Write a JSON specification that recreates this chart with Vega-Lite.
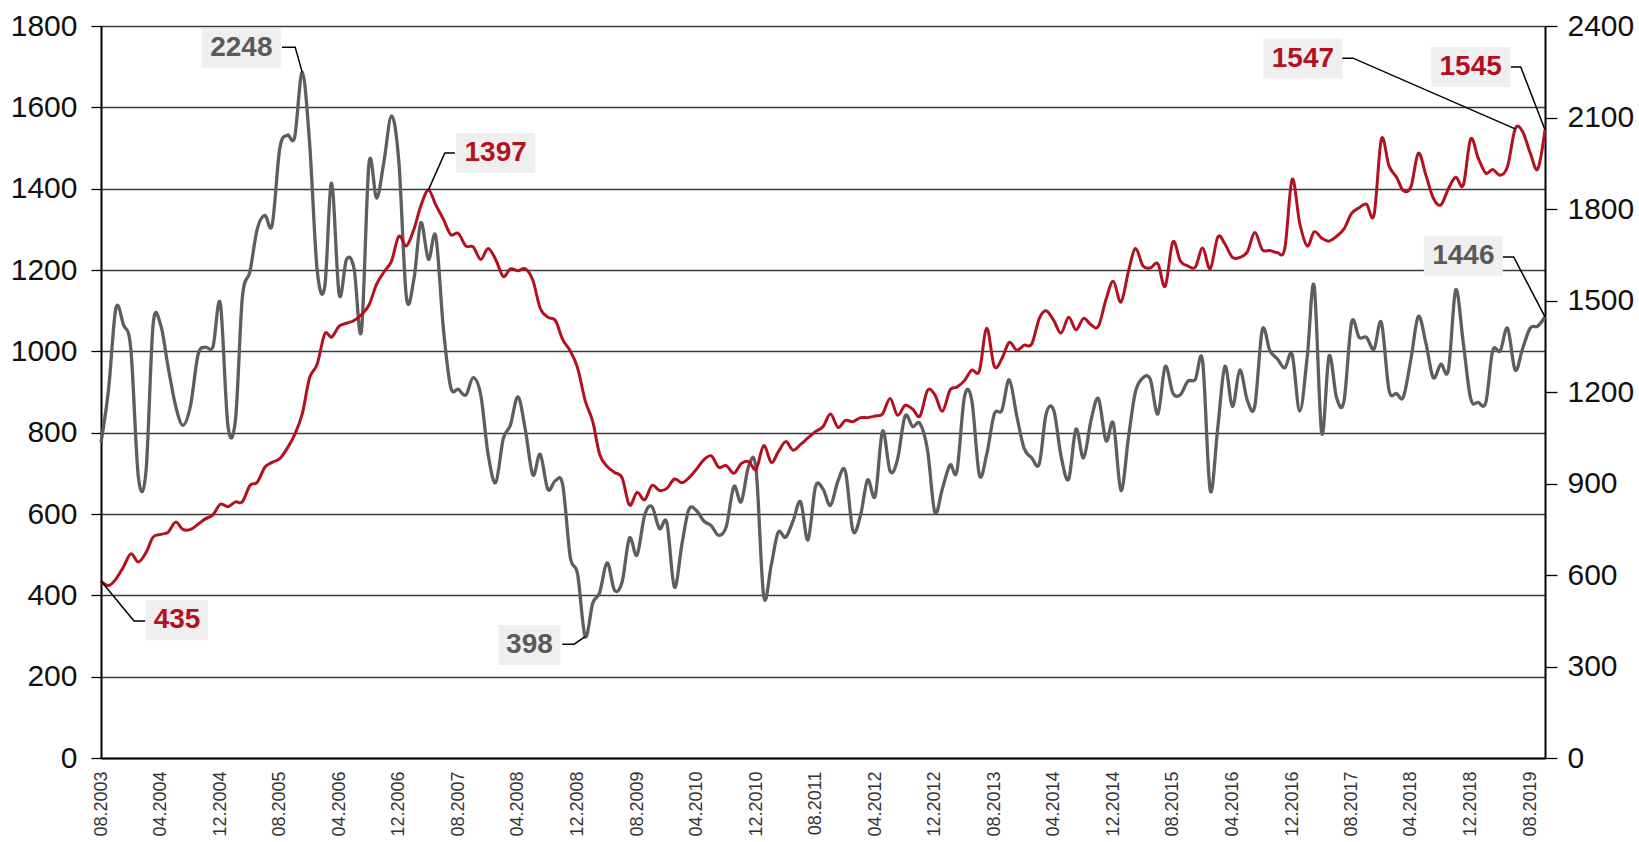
{
  "$schema": "https://vega.github.io/schema/vega-lite/v6.json",
  "width": 1444,
  "height": 732,
  "autosize": {"type": "none"},
  "padding": {"left": 101, "top": 26, "right": 94, "bottom": 84},
  "background": "#ffffff",
  "config": {
    "font": "Liberation Sans",
    "view": {"stroke": null},
    "axis": {"title": null}
  },
  "datasets": {
    "main": [
      {"d":"2003-08","r":435,"g":1034},{"d":"2003-09","r":424,"g":1209},{"d":"2003-10","r":440,"g":1475},{"d":"2003-11","r":470,"g":1420},{"d":"2003-12","r":502,"g":1341},
      {"d":"2004-01","r":482,"g":920},{"d":"2004-02","r":505,"g":940},{"d":"2004-03","r":543,"g":1420},{"d":"2004-04","r":550,"g":1420},{"d":"2004-05","r":555,"g":1284},{"d":"2004-06","r":580,"g":1155},{"d":"2004-07","r":562,"g":1091},{"d":"2004-08","r":562,"g":1155},{"d":"2004-09","r":575,"g":1323},{"d":"2004-10","r":588,"g":1347},{"d":"2004-11","r":598,"g":1349},{"d":"2004-12","r":624,"g":1490},
      {"d":"2005-01","r":618,"g":1090},{"d":"2005-02","r":630,"g":1110},{"d":"2005-03","r":630,"g":1510},{"d":"2005-04","r":670,"g":1595},{"d":"2005-05","r":678,"g":1735},{"d":"2005-06","r":715,"g":1779},{"d":"2005-07","r":727,"g":1748},{"d":"2005-08","r":736,"g":1998},{"d":"2005-09","r":762,"g":2042},{"d":"2005-10","r":795,"g":2036},{"d":"2005-11","r":846,"g":2248},{"d":"2005-12","r":935,"g":2017},
      {"d":"2006-01","r":968,"g":1600},{"d":"2006-02","r":1043,"g":1545},{"d":"2006-03","r":1035,"g":1885},{"d":"2006-04","r":1062,"g":1520},{"d":"2006-05","r":1069,"g":1635},{"d":"2006-06","r":1076,"g":1604},{"d":"2006-07","r":1090,"g":1400},{"d":"2006-08","r":1114,"g":1950},{"d":"2006-09","r":1165,"g":1836},{"d":"2006-10","r":1195,"g":1955},{"d":"2006-11","r":1222,"g":2105},{"d":"2006-12","r":1283,"g":1955},
      {"d":"2007-01","r":1259,"g":1510},{"d":"2007-02","r":1301,"g":1572},{"d":"2007-03","r":1358,"g":1755},{"d":"2007-04","r":1397,"g":1635},{"d":"2007-05","r":1360,"g":1711},{"d":"2007-06","r":1325,"g":1409},{"d":"2007-07","r":1287,"g":1216},{"d":"2007-08","r":1290,"g":1209},{"d":"2007-09","r":1259,"g":1190},{"d":"2007-10","r":1257,"g":1247},{"d":"2007-11","r":1226,"g":1190},{"d":"2007-12","r":1253,"g":996},
      {"d":"2008-01","r":1226,"g":903},{"d":"2008-02","r":1184,"g":1047},{"d":"2008-03","r":1203,"g":1091},{"d":"2008-04","r":1198,"g":1184},{"d":"2008-05","r":1203,"g":1078},{"d":"2008-06","r":1175,"g":928},{"d":"2008-07","r":1106,"g":996},{"d":"2008-08","r":1084,"g":881},{"d":"2008-09","r":1076,"g":909},{"d":"2008-10","r":1029,"g":896},{"d":"2008-11","r":1001,"g":659},{"d":"2008-12","r":959,"g":603},
      {"d":"2009-01","r":879,"g":398},{"d":"2009-02","r":827,"g":508},{"d":"2009-03","r":747,"g":542},{"d":"2009-04","r":717,"g":640},{"d":"2009-05","r":702,"g":550},{"d":"2009-06","r":689,"g":577},{"d":"2009-07","r":622,"g":721},{"d":"2009-08","r":653,"g":665},{"d":"2009-09","r":635,"g":796},{"d":"2009-10","r":670,"g":824},{"d":"2009-11","r":658,"g":752},{"d":"2009-12","r":663,"g":771},
      {"d":"2010-01","r":686,"g":560},{"d":"2010-02","r":677,"g":703},{"d":"2010-03","r":689,"g":815},{"d":"2010-04","r":710,"g":811},{"d":"2010-05","r":733,"g":777},{"d":"2010-06","r":743,"g":761},{"d":"2010-07","r":715,"g":730},{"d":"2010-08","r":719,"g":759},{"d":"2010-09","r":700,"g":890},{"d":"2010-10","r":724,"g":840},{"d":"2010-11","r":729,"g":958},{"d":"2010-12","r":710,"g":946},
      {"d":"2011-01","r":768,"g":530},{"d":"2011-02","r":727,"g":633},{"d":"2011-03","r":752,"g":740},{"d":"2011-04","r":778,"g":724},{"d":"2011-05","r":757,"g":777},{"d":"2011-06","r":771,"g":840},{"d":"2011-07","r":787,"g":715},{"d":"2011-08","r":803,"g":890},{"d":"2011-09","r":815,"g":881},{"d":"2011-10","r":846,"g":828},{"d":"2011-11","r":813,"g":909},{"d":"2011-12","r":830,"g":940},
      {"d":"2012-01","r":827,"g":745},{"d":"2012-02","r":837,"g":796},{"d":"2012-03","r":837,"g":912},{"d":"2012-04","r":841,"g":859},{"d":"2012-05","r":846,"g":1072},{"d":"2012-06","r":884,"g":940},{"d":"2012-07","r":843,"g":978},{"d":"2012-08","r":867,"g":1121},{"d":"2012-09","r":858,"g":1087},{"d":"2012-10","r":841,"g":1097},{"d":"2012-11","r":904,"g":1009},{"d":"2012-12","r":893,"g":805},
      {"d":"2013-01","r":853,"g":884},{"d":"2013-02","r":905,"g":961},{"d":"2013-03","r":912,"g":940},{"d":"2013-04","r":928,"g":1184},{"d":"2013-05","r":954,"g":1172},{"d":"2013-06","r":952,"g":928},{"d":"2013-07","r":1057,"g":996},{"d":"2013-08","r":963,"g":1128},{"d":"2013-09","r":982,"g":1140},{"d":"2013-10","r":1022,"g":1240},{"d":"2013-11","r":1003,"g":1121},{"d":"2013-12","r":1015,"g":1015},
      {"d":"2014-01","r":1018,"g":984},{"d":"2014-02","r":1081,"g":965},{"d":"2014-03","r":1100,"g":1128},{"d":"2014-04","r":1076,"g":1140},{"d":"2014-05","r":1045,"g":990},{"d":"2014-06","r":1084,"g":914},{"d":"2014-07","r":1053,"g":1078},{"d":"2014-08","r":1081,"g":984},{"d":"2014-09","r":1065,"g":1109},{"d":"2014-10","r":1062,"g":1178},{"d":"2014-11","r":1128,"g":1040},{"d":"2014-12","r":1172,"g":1097},
      {"d":"2015-01","r":1121,"g":877},{"d":"2015-02","r":1198,"g":1053},{"d":"2015-03","r":1253,"g":1200},{"d":"2015-04","r":1210,"g":1247},{"d":"2015-05","r":1205,"g":1241},{"d":"2015-06","r":1215,"g":1128},{"d":"2015-07","r":1160,"g":1284},{"d":"2015-08","r":1269,"g":1197},{"d":"2015-09","r":1222,"g":1191},{"d":"2015-10","r":1210,"g":1235},{"d":"2015-11","r":1207,"g":1241},{"d":"2015-12","r":1254,"g":1300},
      {"d":"2016-01","r":1203,"g":877},{"d":"2016-02","r":1281,"g":1084},{"d":"2016-03","r":1264,"g":1284},{"d":"2016-04","r":1231,"g":1153},{"d":"2016-05","r":1231,"g":1272},{"d":"2016-06","r":1245,"g":1172},{"d":"2016-07","r":1292,"g":1153},{"d":"2016-08","r":1250,"g":1404},{"d":"2016-09","r":1248,"g":1335},{"d":"2016-10","r":1243,"g":1309},{"d":"2016-11","r":1253,"g":1279},{"d":"2016-12","r":1423,"g":1323},
      {"d":"2017-01","r":1315,"g":1137},{"d":"2017-02","r":1259,"g":1318},{"d":"2017-03","r":1294,"g":1548},{"d":"2017-04","r":1278,"g":1065},{"d":"2017-05","r":1271,"g":1318},{"d":"2017-06","r":1283,"g":1180},{"d":"2017-07","r":1301,"g":1170},{"d":"2017-08","r":1339,"g":1428},{"d":"2017-09","r":1353,"g":1379},{"d":"2017-10","r":1362,"g":1379},{"d":"2017-11","r":1336,"g":1341},{"d":"2017-12","r":1522,"g":1428},
      {"d":"2018-01","r":1456,"g":1207},{"d":"2018-02","r":1428,"g":1195},{"d":"2018-03","r":1395,"g":1184},{"d":"2018-04","r":1405,"g":1309},{"d":"2018-05","r":1487,"g":1448},{"d":"2018-06","r":1433,"g":1360},{"d":"2018-07","r":1377,"g":1247},{"d":"2018-08","r":1360,"g":1291},{"d":"2018-09","r":1400,"g":1272},{"d":"2018-10","r":1428,"g":1535},{"d":"2018-11","r":1409,"g":1360},{"d":"2018-12","r":1522,"g":1178},
      {"d":"2019-01","r":1475,"g":1166},{"d":"2019-02","r":1438,"g":1166},{"d":"2019-03","r":1447,"g":1335},{"d":"2019-04","r":1433,"g":1335},{"d":"2019-05","r":1455,"g":1409},{"d":"2019-06","r":1547,"g":1272},{"d":"2019-07","r":1541,"g":1341},{"d":"2019-08","r":1489,"g":1409},{"d":"2019-09","r":1448,"g":1416},{"d":"2019-10","r":1545,"g":1446}
    ],
    "ann": [
      {"label":"2248","series":"grey","ld":"2005-02-25","lv":1746},
      {"label":"1397","series":"red","ld":"2008-01-01","lv":1488},
      {"label":"435","series":"red","ld":"2004-06-07","lv":339},
      {"label":"398","series":"grey","ld":"2008-05-18","lv":278},
      {"label":"1547","series":"red","ld":"2017-01-14","lv":1720},
      {"label":"1545","series":"red","ld":"2018-12-01","lv":1699},
      {"label":"1446","series":"grey","ld":"2018-11-01","lv":1234}
    ],
    "conn": [
      {"id":"a","o":1,"cd":"2005-08-10","cv":1748},{"id":"a","o":2,"cd":"2005-10-03","cv":1748},{"id":"a","o":3,"cd":"2005-11-01","cv":1686},
      {"id":"b","o":1,"cd":"2007-07-18","cv":1488},{"id":"b","o":2,"cd":"2007-06-07","cv":1488},{"id":"b","o":3,"cd":"2007-04-01","cv":1397},
      {"id":"c","o":1,"cd":"2004-01-29","cv":337},{"id":"c","o":2,"cd":"2003-12-14","cv":337},{"id":"c","o":3,"cd":"2003-08-01","cv":435},
      {"id":"d","o":1,"cd":"2008-09-29","cv":280},{"id":"d","o":2,"cd":"2008-11-17","cv":280},{"id":"d","o":3,"cd":"2009-01-01","cv":298.5},
      {"id":"e","o":1,"cd":"2017-06-23","cv":1721},{"id":"e","o":2,"cd":"2017-08-07","cv":1721},{"id":"e","o":3,"cd":"2019-06-01","cv":1547},
      {"id":"f","o":1,"cd":"2019-05-14","cv":1699},{"id":"f","o":2,"cd":"2019-06-24","cv":1699},{"id":"f","o":3,"cd":"2019-10-01","cv":1545},
      {"id":"g","o":1,"cd":"2019-04-11","cv":1232},{"id":"g","o":2,"cd":"2019-05-26","cv":1232},{"id":"g","o":3,"cd":"2019-10-01","cv":1084.5}
    ]
  },
  "layer": [
    {
      "data": {"name": "main"},
      "mark": {"type": "line", "color": "#5e5e5e", "strokeWidth": 3.3, "interpolate": "cardinal"},
      "encoding": {
        "x": {"field": "d", "type": "temporal", "scale": {"type": "utc", "nice": false, "domain": [{"year": 2003, "month": 8, "date": 1, "utc": true}, {"year": 2019, "month": 10, "date": 1, "utc": true}]},
          "axis": {
            "format": "%m.%Y",
            "values": [
              {"year": 2003, "month": 8, "date": 1, "utc": true},
              {"year": 2004, "month": 4, "date": 1, "utc": true},
              {"year": 2004, "month": 12, "date": 1, "utc": true},
              {"year": 2005, "month": 8, "date": 1, "utc": true},
              {"year": 2006, "month": 4, "date": 1, "utc": true},
              {"year": 2006, "month": 12, "date": 1, "utc": true},
              {"year": 2007, "month": 8, "date": 1, "utc": true},
              {"year": 2008, "month": 4, "date": 1, "utc": true},
              {"year": 2008, "month": 12, "date": 1, "utc": true},
              {"year": 2009, "month": 8, "date": 1, "utc": true},
              {"year": 2010, "month": 4, "date": 1, "utc": true},
              {"year": 2010, "month": 12, "date": 1, "utc": true},
              {"year": 2011, "month": 8, "date": 1, "utc": true},
              {"year": 2012, "month": 4, "date": 1, "utc": true},
              {"year": 2012, "month": 12, "date": 1, "utc": true},
              {"year": 2013, "month": 8, "date": 1, "utc": true},
              {"year": 2014, "month": 4, "date": 1, "utc": true},
              {"year": 2014, "month": 12, "date": 1, "utc": true},
              {"year": 2015, "month": 8, "date": 1, "utc": true},
              {"year": 2016, "month": 4, "date": 1, "utc": true},
              {"year": 2016, "month": 12, "date": 1, "utc": true},
              {"year": 2017, "month": 8, "date": 1, "utc": true},
              {"year": 2018, "month": 4, "date": 1, "utc": true},
              {"year": 2018, "month": 12, "date": 1, "utc": true},
              {"year": 2019, "month": 8, "date": 1, "utc": true}
            ],
            "labelAngle": -90,
            "labelFontSize": 18,
            "labelColor": "#333333",
            "labelPadding": 13,
            "labelOverlap": false,
            "labelFlush": false,
            "ticks": false,
            "grid": false,
            "domain": true,
            "domainColor": "#000000",
            "domainWidth": 2
          }},
        "y": {"field": "g", "type": "quantitative", "scale": {"domain": [0, 2400], "nice": false},
          "axis": {"orient": "right", "format": "d", "values": [0, 300, 600, 900, 1200, 1500, 1800, 2100, 2400], "grid": false, "domain": true, "domainColor": "#000000", "domainWidth": 2, "ticks": true, "tickColor": "#000000", "tickSize": 12, "tickWidth": 1.3, "labelFontSize": 30, "labelColor": "#111111", "labelPadding": 10}}
      }
    },
    {
      "layer": [
        {
          "data": {"name": "main"},
          "mark": {"type": "line", "color": "#b3111f", "strokeWidth": 3, "interpolate": "cardinal"},
          "encoding": {
            "x": {"field": "d", "type": "temporal", "scale": {"type": "utc", "nice": false, "domain": [{"year": 2003, "month": 8, "date": 1, "utc": true}, {"year": 2019, "month": 10, "date": 1, "utc": true}]}},
            "y": {"field": "r", "type": "quantitative", "scale": {"domain": [0, 1800], "nice": false},
              "axis": {"orient": "left", "format": "d", "values": [0, 200, 400, 600, 800, 1000, 1200, 1400, 1600, 1800], "grid": true, "gridColor": "#3a3a3a", "gridWidth": 1.3, "domain": true, "domainColor": "#000000", "domainWidth": 2, "ticks": true, "tickColor": "#000000", "tickSize": 10, "tickWidth": 1.3, "labelFontSize": 30, "labelColor": "#111111", "labelPadding": 14}}
          }
        },
        {
          "data": {"name": "conn"},
          "mark": {"type": "line", "color": "#000000", "strokeWidth": 1.5, "interpolate": "linear"},
          "encoding": {
            "x": {"field": "cd", "type": "temporal", "scale": {"type": "utc", "nice": false, "domain": [{"year": 2003, "month": 8, "date": 1, "utc": true}, {"year": 2019, "month": 10, "date": 1, "utc": true}]}},
            "y": {"field": "cv", "type": "quantitative", "scale": {"domain": [0, 1800], "nice": false}},
            "detail": {"field": "id"},
            "order": {"field": "o", "type": "quantitative"}
          }
        },
        {
          "data": {"name": "ann"},
          "transform": [{"filter": "length(datum.label) == 4"}],
          "mark": {"type": "point", "shape": "M-1,-0.506H1V0.506H-1Z", "size": 6241, "filled": true, "color": "#efefef", "opacity": 1, "strokeWidth": 0},
          "encoding": {
            "x": {"field": "ld", "type": "temporal", "scale": {"type": "utc", "nice": false, "domain": [{"year": 2003, "month": 8, "date": 1, "utc": true}, {"year": 2019, "month": 10, "date": 1, "utc": true}]}},
            "y": {"field": "lv", "type": "quantitative", "scale": {"domain": [0, 1800], "nice": false}}
          }
        },
        {
          "data": {"name": "ann"},
          "transform": [{"filter": "length(datum.label) == 3"}],
          "mark": {"type": "point", "shape": "M-1,-0.645H1V0.645H-1Z", "size": 3844, "filled": true, "color": "#efefef", "opacity": 1, "strokeWidth": 0},
          "encoding": {
            "x": {"field": "ld", "type": "temporal", "scale": {"type": "utc", "nice": false, "domain": [{"year": 2003, "month": 8, "date": 1, "utc": true}, {"year": 2019, "month": 10, "date": 1, "utc": true}]}},
            "y": {"field": "lv", "type": "quantitative", "scale": {"domain": [0, 1800], "nice": false}}
          }
        },
        {
          "data": {"name": "ann"},
          "mark": {"type": "text", "font": "Liberation Sans", "fontWeight": "bold", "fontSize": 28, "align": "center", "baseline": "middle"},
          "encoding": {
            "x": {"field": "ld", "type": "temporal", "scale": {"type": "utc", "nice": false, "domain": [{"year": 2003, "month": 8, "date": 1, "utc": true}, {"year": 2019, "month": 10, "date": 1, "utc": true}]}},
            "y": {"field": "lv", "type": "quantitative", "scale": {"domain": [0, 1800], "nice": false}},
            "text": {"field": "label"},
            "color": {"field": "series", "type": "nominal", "scale": {"domain": ["red", "grey"], "range": ["#b3111f", "#5a5a5a"]}, "legend": null}
          }
        }
      ]
    }
  ],
  "resolve": {"scale": {"y": "independent"}, "axis": {"y": "independent"}}
}
